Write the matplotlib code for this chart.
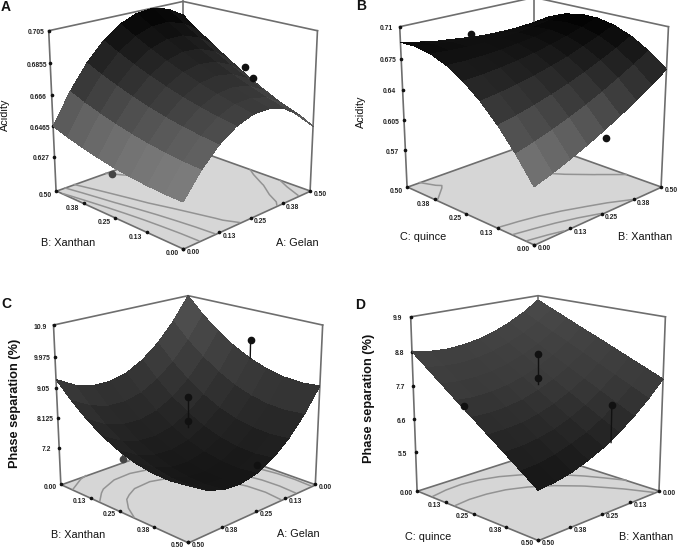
import matplotlib
matplotlib.use("Agg")
import matplotlib.pyplot as plt
import numpy as np
from matplotlib.colors import LinearSegmentedColormap
from mpl_toolkits.mplot3d import proj3d
from mpl_toolkits.mplot3d.art3d import Poly3DCollection

plt.rcParams['font.family'] = ['Liberation Sans', 'DejaVu Sans']

W, H = 677, 549

# factor levels of the surface grid
levels = [0, 0.0625, 0.125, 0.1875, 0.25, 0.3125, 0.375, 0.4375, 0.5]
tick_vals = [0, 0.13, 0.25, 0.38, 0.5]
tick_labels = ['0.00', '0.13', '0.25', '0.38', '0.50']

# rows = second factor, columns = first factor
acid_ab = [
    [.6320, .6461, .6567, .6638, .6674, .6674, .6640, .6570, .6465],
    [.6322, .6468, .6580, .6656, .6698, .6703, .6675, .6610, .6511],
    [.6329, .6481, .6598, .6680, .6727, .6738, .6715, .6656, .6562],
    [.6340, .6497, .6620, .6707, .6760, .6776, .6758, .6705, .6616],
    [.6356, .6519, .6647, .6740, .6798, .6819, .6807, .6759, .6676],
    [.6377, .6545, .6679, .6777, .6840, .6868, .6861, .6818, .6741],
    [.6402, .6576, .6715, .6818, .6887, .6920, .6919, .6882, .6810],
    [.6431, .6610, .6755, .6864, .6938, .6976, .6981, .6949, .6882],
    [.6465, .6650, .6800, .6914, .6994, .7038, .7048, .7021, .6960],
]
acid_bc = [
    [.5880, .5946, .6021, .6103, .6193, .6290, .6396, .6509, .6630],
    [.6148, .6200, .6261, .6329, .6405, .6488, .6581, .6680, .6787],
    [.6377, .6415, .6462, .6517, .6579, .6648, .6726, .6811, .6904],
    [.6567, .6591, .6625, .6665, .6713, .6768, .6833, .6904, .6983],
    [.6718, .6728, .6748, .6774, .6808, .6850, .6900, .6958, .7023],
    [.6829, .6825, .6831, .6843, .6864, .6891, .6928, .6971, .7023],
    [.6902, .6885, .6876, .6875, .6881, .6895, .6917, .6947, .6984],
    [.6935, .6904, .6881, .6866, .6859, .6858, .6867, .6883, .6906],
    [.6930, .6885, .6848, .6824, .6798, .6784, .6778, .6780, .6790],
]
phase_ab = [
    [10.90, 10.18, 9.61, 9.19, 8.91, 8.79, 8.81, 8.98, 9.30],
    [10.40, 9.68, 9.11, 8.70, 8.42, 8.30, 8.32, 8.50, 8.82],
    [9.98, 9.27, 8.70, 8.28, 8.01, 7.89, 7.92, 8.09, 8.42],
    [9.64, 8.93, 8.36, 7.95, 7.68, 7.56, 7.59, 7.77, 8.09],
    [9.38, 8.66, 8.10, 7.69, 7.42, 7.31, 7.34, 7.52, 7.85],
    [9.19, 8.48, 7.92, 7.51, 7.25, 7.13, 7.16, 7.35, 7.68],
    [9.08, 8.37, 7.82, 7.41, 7.15, 7.03, 7.07, 7.25, 7.59],
    [9.05, 8.35, 7.79, 7.38, 7.12, 7.01, 7.05, 7.24, 7.57],
    [9.10, 8.40, 7.84, 7.44, 7.18, 7.07, 7.11, 7.30, 7.64],
]
phase_bc = [
    [9.75, 9.41, 9.14, 8.93, 8.78, 8.69, 8.66, 8.70, 8.80],
    [9.52, 9.16, 8.87, 8.64, 8.47, 8.36, 8.31, 8.33, 8.41],
    [9.29, 8.91, 8.60, 8.35, 8.16, 8.03, 7.97, 7.96, 8.02],
    [9.06, 8.67, 8.33, 8.06, 7.85, 7.70, 7.62, 7.59, 7.63],
    [8.84, 8.42, 8.06, 7.77, 7.54, 7.37, 7.27, 7.23, 7.25],
    [8.61, 8.17, 7.79, 7.48, 7.23, 7.04, 6.92, 6.87, 6.86],
    [8.38, 7.92, 7.53, 7.19, 6.92, 6.71, 6.58, 6.50, 6.48],
    [8.15, 7.67, 7.26, 6.90, 6.61, 6.40, 6.23, 6.13, 6.09],
    [7.92, 7.42, 6.99, 6.62, 6.31, 6.07, 5.88, 5.76, 5.70],
]

# design points: x, y, z at marker, z at stem end
points_a = [(0.5, 0.25, .672, .672), (0.5, 0.22, .666, .666)]
points_b = [(0.25, 0.5, .684, .678), (0.26, 0, .61, .61)]
points_c = [(0, 0.25, 9.96, 9.39), (0.25, 0.25, 8.77, 8.04), (0.25, 0.25, 8.04, 7.85),
            (0.25, 0.5, 7.44, 7.44)]
points_d = [(0.25, 0.25, 8.71, 7.95), (0.25, 0.25, 7.95, 7.75), (0.5, 0.22, 7.55, 7.55),
            (0.22, 0.5, 7.58, 6.39)]
hidden_a = [(0, 0.26, .631, .631)]
hidden_c = [(0.27, 0, 6.15, 8.7)]

ztick_a = [.627, .6465, .666, .6855, .705]
ztick_b = [.57, .605, .64, .675, .71]
ztick_c = [7.2, 8.125, 9.05, 9.975, 10.9]
ztick_d = [5.5, 6.6, 7.7, 8.8, 9.9]
zlab_a = ['0.627', '0.6465', '0.666', '0.6855', '0.705']
zlab_b = ['0.57', '0.605', '0.64', '0.675', '0.71']
zlab_c = ['7.2', '8.125', '9.05', '9.975', '10.9']
zlab_d = ['5.5', '6.6', '7.7', '8.8', '9.9']


def draw_panel(rect, azim, elev, aspect, table, zlim, zticks, zlabels, cont, grays, pts, hidden):
    ax = fig.add_axes([rect[0] / W, 1 - (rect[1] + rect[2]) / H, rect[2] / W, rect[2] / H],
                      projection='3d')
    ax.computed_zorder = False
    ax.set_proj_type('persp', focal_length=0.6)
    ax.view_init(elev=elev, azim=azim)
    ax.set_box_aspect((1, 1, aspect))
    ax.set_xlim(0, 0.5)
    ax.set_ylim(0, 0.5)
    z0, z1 = zlim
    ax.set_zlim(z0, z1)
    ax.set_axis_off()
    ax.patch.set_alpha(0)

    if azim < 0:
        front, left, right, back = (0, 0), (0, 0.5), (0.5, 0), (0.5, 0.5)
        low = 0
    else:
        front, left, right, back = (0.5, 0.5), (0.5, 0), (0, 0.5), (0, 0)
        low = 1

    line = dict(color='#6e6e6e', lw=1.2, zorder=2)
    floor = [(left[0], left[1], z0), (front[0], front[1], z0),
             (right[0], right[1], z0), (back[0], back[1], z0)]
    ax.add_collection3d(Poly3DCollection([floor], facecolor='#d6d6d6', edgecolor='#6e6e6e',
                                         linewidths=1.2, zorder=1))
    for c in (left, back, right):
        ax.plot([c[0], c[0]], [c[1], c[1]], [z0, z1], **line)
    ax.plot([left[0], back[0], right[0]], [left[1], back[1], right[1]], [z1, z1, z1], **line)

    X, Y = np.meshgrid(levels, levels)
    Z = np.array(table)
    ax.contour(X, Y, Z, levels=cont, zdir='z', offset=z0, colors='#939393',
               linewidths=1.1, zorder=1.5)

    for h in hidden:
        ax.plot([h[0], h[0]], [h[1], h[1]], [h[2], h[3]], color='#333333', lw=1, zorder=2.5)
        ax.plot([h[0]], [h[1]], [h[2]], 'o', color='#444444', ms=4.5, zorder=2.6)

    cmap = LinearSegmentedColormap.from_list('surf', grays)
    ax.plot_surface(X, Y, Z, cmap=cmap, rcount=9, ccount=9, shade=False,
                    linewidth=0, antialiased=False, zorder=3,
                    vmin=Z.min(), vmax=Z.max())

    for p in pts:
        ax.plot([p[0], p[0]], [p[1], p[1]], [p[2], p[3]], color='#111111', lw=1, zorder=4)
        ax.plot([p[0]], [p[1]], [p[2]], 'o', color='#111111', ms=4.5, zorder=5)

    # labels sit a fixed number of pixels away from the projected tick
    M = ax.get_proj()

    def tick_text(x, y, z, s, dx, dy):
        sx, sy, _ = proj3d.proj_transform(x, y, z, M)
        ax.annotate(s, xy=(sx, sy), xytext=(dx, dy), textcoords='offset pixels',
                    ha='center', va='center', fontsize=4.9, fontweight='bold',
                    color='#222222', annotation_clip=False)

    mark = dict(marker='o', color='#111111', ms=1.6, ls='none', zorder=2.2)
    for v, lab in zip(tick_vals, tick_labels):
        ax.plot([v], [front[1]], [z0], **mark)
        ax.plot([front[0]], [v], [z0], **mark)
        tick_text(v, front[1], z0, lab, 10, -4 + low)
        tick_text(front[0], v, z0, lab, -11, -5 + 2 * low)
    for v, lab in zip(zticks, zlabels):
        ax.plot([left[0]], [left[1]], [v], **mark)
        tick_text(left[0], left[1], v, lab, -13, -2)
    return ax


def label(x, y, s, **kw):
    fig.text(x / W, 1 - y / H, s, ha='center', va='center', color='#111111', **kw)


fig = plt.figure(figsize=(W / 100, H / 100), dpi=100)

draw_panel((28, -34, 302), -135, 19, 0.915, acid_ab, (.6048, .705), ztick_a, zlab_a,
           [.645, .655, .665, .69], ['#8a8a8a', '#3c3c3c', '#000000'], points_a, hidden_a)
draw_panel((379, -38, 302), -135, 19, 0.915, acid_bc, (.5266, .71), ztick_b, zlab_b,
           [.60, .62, .64, .69], ['#858585', '#3c3c3c', '#000000'], points_b, [])
draw_panel((33, 260, 302), 45, 19, 0.91, phase_ab, (6.03, 10.9), ztick_c, zlab_c,
           [7.7, 8.2, 8.9], ['#151515', '#383838', '#565656'], points_c, hidden_c)
draw_panel((385, 261, 298), 45, 16, 1.03, phase_bc, (4.18, 9.9), ztick_d, zlab_d,
           [7.75, 8.37], ['#141414', '#3a3a3a', '#4a4a4a'], points_d, [])

name_font = dict(fontsize=7.8)
label(68, 243, 'B: Xanthan', **name_font)
label(297, 243, 'A: Gelan', **name_font)
label(423, 237, 'C: quince', **name_font)
label(645, 237, 'B: Xanthan', **name_font)
label(78, 535, 'B: Xanthan', **name_font)
label(298, 534, 'A: Gelan', **name_font)
label(428, 537, 'C: quince', **name_font)
label(646, 537, 'B: Xanthan', **name_font)
label(5, 115, 'Acidity', rotation=90, fontsize=7.8)
label(361, 112, 'Acidity', rotation=90, fontsize=7.8)
label(15, 403, 'Phase separation (%)', rotation=90, fontsize=9.2, fontweight='bold')
label(369, 398, 'Phase separation (%)', rotation=90, fontsize=9.2, fontweight='bold')
for x, y, s in [(6, 7, 'A'), (361, 6, 'B'), (6, 304, 'C'), (360, 305, 'D')]:
    label(x, y, s, fontsize=10, fontweight='bold')

fig.savefig('out.png', dpi=100)
